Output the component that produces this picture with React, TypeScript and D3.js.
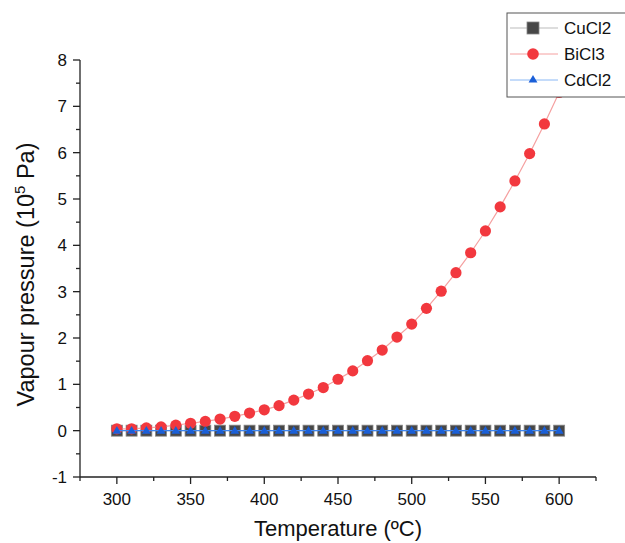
import React from "react";
import * as d3 from "d3";

const temperatures = [300, 310, 320, 330, 340, 350, 360, 370, 380, 390, 400, 410, 420, 430, 440, 450, 460, 470, 480, 490, 500, 510, 520, 530, 540, 550, 560, 570, 580, 590, 600];
const cuCl2 = [0, 0, 0, 0, 0, 0, 0, 0, 0, 0, 0, 0, 0, 0, 0, 0, 0, 0, 0, 0, 0, 0, 0, 0, 0, 0, 0, 0, 0, 0, 0];
const biCl3 = [0.04, 0.04, 0.06, 0.08, 0.12, 0.16, 0.2, 0.25, 0.31, 0.38, 0.45, 0.54, 0.66, 0.79, 0.93, 1.11, 1.29, 1.51, 1.74, 2.02, 2.3, 2.64, 3.01, 3.41, 3.84, 4.31, 4.83, 5.39, 5.98, 6.62, 7.3];
const cdCl2 = [0, 0, 0, 0, 0, 0, 0, 0, 0, 0, 0, 0, 0, 0, 0, 0, 0, 0, 0, 0, 0, 0, 0, 0, 0, 0, 0, 0, 0, 0, 0];
const xTicks = [300, 350, 400, 450, 500, 550, 600];
const xMinorTicks = [275, 325, 375, 425, 475, 525, 575, 625];
const yTicks = [-1, 0, 1, 2, 3, 4, 5, 6, 7, 8];
const yMinorTicks = [-0.5, 0.5, 1.5, 2.5, 3.5, 4.5, 5.5, 6.5, 7.5];
const seriesNames = ["CuCl2", "BiCl3", "CdCl2"];

const FONT = "'Liberation Sans', Arial, Helvetica, sans-serif";

export default function App() {
  const x = d3.scaleLinear().domain([275, 625]).range([80, 596]);
  const y = d3.scaleLinear().domain([-1, 8]).range([477, 60]);
  const line = d3
    .line<[number, number]>()
    .x((d) => x(d[0]))
    .y((d) => y(d[1]));
  const pts = (vals: number[]) => temperatures.map((t, i) => [t, vals[i]] as [number, number]);
  const tri = d3.symbol().type(d3.symbolTriangle).size(34)() as string;

  return (
    <svg width={625} height={543} style={{ position: "absolute", left: 0, top: 0, background: "#fff" }} fontFamily={FONT}>
      <rect x={0} y={0} width={625} height={543} fill="#fff" />
      {/* axes */}
      <line x1={x(275)} x2={x(625)} y1={y(-1)} y2={y(-1)} stroke="#222" strokeWidth={1.3} />
      <line x1={x(275)} x2={x(275)} y1={y(-1)} y2={y(8)} stroke="#222" strokeWidth={1.3} />
      {xTicks.map((t) => (
        <g key={"xt" + t}>
          <line x1={x(t)} x2={x(t)} y1={y(-1)} y2={y(-1) + 7} stroke="#222" strokeWidth={1.3} />
          <text x={x(t)} y={505} fontSize={17} textAnchor="middle" fill="#111">
            {t}
          </text>
        </g>
      ))}
      {xMinorTicks.map((t) => (
        <line key={"xm" + t} x1={x(t)} x2={x(t)} y1={y(-1)} y2={y(-1) + 4} stroke="#222" strokeWidth={1.3} />
      ))}
      {yTicks.map((t) => (
        <g key={"yt" + t}>
          <line x1={x(275) - 7} x2={x(275)} y1={y(t)} y2={y(t)} stroke="#222" strokeWidth={1.3} />
          <text x={67} y={y(t) + 6} fontSize={17} textAnchor="end" fill="#111">
            {t}
          </text>
        </g>
      ))}
      {yMinorTicks.map((t) => (
        <line key={"ym" + t} x1={x(275) - 4} x2={x(275)} y1={y(t)} y2={y(t)} stroke="#222" strokeWidth={1.3} />
      ))}
      {/* titles */}
      <text x={338} y={536} fontSize={22} textAnchor="middle" fill="#111">
        Temperature (ºC)
      </text>
      <text transform={`translate(34, ${(y(-1) + y(8)) / 2 + 6}) rotate(-90)`} fontSize={23.5} textAnchor="middle" fill="#111">
        Vapour pressure (10<tspan dy={-9} fontSize={15}>5</tspan><tspan dy={9}> Pa)</tspan>
      </text>

      {/* CuCl2 */}
      <path d={line(pts(cuCl2)) as string} fill="none" stroke="#bbb" strokeWidth={1} />
      {temperatures.map((t, i) => (
        <rect key={"cu" + t} x={x(t) - 5.5} y={y(cuCl2[i]) - 5.5} width={11} height={11} fill="#474747" stroke="#888" strokeWidth={0.8} />
      ))}
      {/* BiCl3 */}
      <path d={line(pts(biCl3)) as string} fill="none" stroke="#f5a0a0" strokeWidth={1.2} />
      {temperatures.map((t, i) => (
        <circle key={"bi" + t} cx={x(t)} cy={y(biCl3[i])} r={5.6} fill="#f2383e" />
      ))}
      {/* CdCl2 */}
      <path d={line(pts(cdCl2)) as string} fill="none" stroke="#3f86f0" strokeWidth={1.3} />
      {temperatures.map((t, i) => (
        <path key={"cd" + t} d={tri} transform={`translate(${x(t)}, ${y(cdCl2[i]) + 0.5})`} fill="#1a5fd8" />
      ))}

      {/* legend */}
      <rect x={507} y={13} width={130} height={84} fill="#fff" stroke="#555" strokeWidth={1} />
      {seriesNames.map((name, i) => {
        const ly = 28 + i * 26;
        const colors = ["#bbb", "#f5a0a0", "#8ab8f5"];
        return (
          <g key={name}>
            <line x1={510} x2={558} y1={ly} y2={ly} stroke={colors[i]} strokeWidth={1} />
            {i === 0 && <rect x={527} y={ly - 6} width={12} height={12} fill="#474747" stroke="#888" strokeWidth={0.8} />}
            {i === 1 && <circle cx={533} cy={ly} r={5.8} fill="#f2383e" />}
            {i === 2 && <path d={tri} transform={`translate(533, ${ly})`} fill="#1a5fd8" />}
            <text x={564} y={ly + 6} fontSize={17} fill="#111">
              {name}
            </text>
          </g>
        );
      })}
    </svg>
  );
}
